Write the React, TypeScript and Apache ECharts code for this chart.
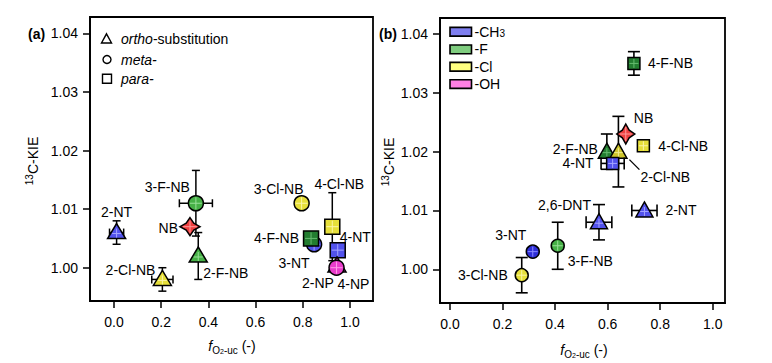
import React, { useEffect, useRef } from 'react';
import * as echarts from 'echarts';

// ---------- tick values ----------
const xTickValues = [0, 0.2, 0.4, 0.6, 0.8, 1.0];
const yTickValues = [1.0, 1.01, 1.02, 1.03, 1.04];

// ---------- panel (a) data ----------
const aNames = ['2-NT', '2-Cl-NB', '3-F-NB', 'NB', '2-F-NB', '3-Cl-NB', '4-Cl-NB', '3-NT', '4-F-NB', '4-NT', '2-NP', '4-NP'];
const aX = [0.011, 0.205, 0.347, 0.322, 0.357, 0.795, 0.925, 0.848, 0.835, 0.948, 0.945, 0.943];
const aY = [1.006, 0.998, 1.011, 1.007, 1.002, 1.011, 1.007, 1.004, 1.005, 1.003, 1.0003, 1.0];
const aXErr = [0.03, 0.045, 0.07, 0, 0, 0, 0, 0, 0, 0, 0, 0];
const aYErr = [0.002, 0.002, 0.0056, 0, 0.004, 0, 0.0058, 0, 0, 0, 0, 0];
const aShape = ['ortho', 'ortho', 'meta', 'nb', 'ortho', 'meta', 'para', 'meta', 'para', 'para', 'ortho', 'meta'];
const aGroup = ['CH3', 'Cl', 'F', 'NB', 'F', 'Cl', 'Cl', 'CH3', 'Fdark', 'CH3', 'OH', 'OH'];

// ---------- panel (b) data ----------
const bNames = ['4-F-NB', '2-NT', '2,6-DNT', '3-F-NB', '3-Cl-NB', '3-NT', '2-F-NB', '2-Cl-NB', 'NB', '4-NT', '4-Cl-NB'];
const bX = [0.7, 0.74, 0.567, 0.41, 0.273, 0.315, 0.597, 0.641, 0.669, 0.619, 0.736];
const bY = [1.035, 1.01, 1.008, 1.004, 0.999, 1.003, 1.02, 1.02, 1.023, 1.018, 1.021];
const bXErr = [0, 0.048, 0.049, 0, 0, 0, 0, 0, 0, 0.044, 0];
const bYErr = [0.002, 0, 0.003, 0.004, 0.003, 0, 0.003, 0.006, 0, 0, 0];
const bShape = ['para', 'ortho', 'ortho', 'meta', 'meta', 'meta', 'ortho', 'ortho', 'nb', 'para', 'para'];
const bGroup = ['Fdark', 'CH3', 'CH3', 'F', 'Cl', 'CH3dark', 'Fdark', 'Cldark', 'NB', 'CH3', 'Cl'];

// ---------- legends ----------
const aLegendTexts = ['{i|ortho}-substitution', '{i|meta-}', '{i|para-}'];
const bLegendTexts = ['-CH{sub|3}', '-F', '-Cl', '-OH'];

// ---------- styles (kept apart from data) ----------
const FONT = '"Liberation Sans", Arial, Helvetica, sans-serif';
const palette: Record<string, [string, string]> = {
  CH3: ['#5252ec', '#a4a4ff'],
  CH3dark: ['#2e2ed8', '#8a8aff'],
  F: ['#46b046', '#98e098'],
  Fdark: ['#237d30', '#66bb70'],
  Cl: ['#e6df3a', '#fbf5a8'],
  Cldark: ['#cdc42c', '#f2ec90'],
  OH: ['#e83ccb', '#ff9ae8'],
  NB: ['#ee3f3f', '#ff9b9b'],
};
const legendSwatchColors = ['#7f7ff0', '#7fcd7f', '#ffff80', '#ff80e4'];

// label layouts: [align, dx, dy, leader?]
type LL = [string, number, number, number[]?];
const aLabelLayout: LL[] = [
  ['center', 0, -21],
  ['right', -7, -9],
  ['right', -6, -16],
  ['right', -12, 1],
  ['left', 5, 17],
  ['center', -23, -14],
  ['center', 7, -43],
  ['center', -20, 19],
  ['right', -12, 0],
  ['left', 2, -13],
  ['center', -19, 17],
  ['left', 1, 16],
];
const bLabelLayout: LL[] = [
  ['left', 14, 0],
  ['left', 21, 0],
  ['right', -8, -17],
  ['left', 10, 15],
  ['right', -14, 0],
  ['center', -22, -17],
  ['right', -9, -3],
  ['left', 22, 25, [11, 8, 21, 18]],
  ['left', 8, -16],
  ['right', -19, 0],
  ['left', 15, 0],
];

const sizeA = { tri: [9, 6, 9], circ: 7.5, sq: 7.5, star: [10, 9], cap: 4, lw: 1.5 };
const sizeB = { tri: [8.5, 6.5, 8.5], circ: 6.5, sq: 6, star: [9, 10], cap: 6, lw: 1.6 };

function makeRenderer(names: string[], shapes: string[], groups: string[], layout: LL[], sz: any) {
  return (params: any, api: any) => {
    const i = params.dataIndex;
    const x = api.value(0);
    const y = api.value(1);
    const xe = api.value(2);
    const ye = api.value(3);
    const [cx, cy] = api.coord([x, y]);
    const children: any[] = [];
    const ls = { stroke: '#000', lineWidth: sz.lw };
    const cap = sz.cap;
    if (ye > 0) {
      const top = api.coord([x, y + ye])[1];
      const bot = api.coord([x, y - ye])[1];
      children.push({ type: 'line', shape: { x1: cx, y1: top, x2: cx, y2: bot }, style: ls });
      children.push({ type: 'line', shape: { x1: cx - cap, y1: top, x2: cx + cap, y2: top }, style: ls });
      children.push({ type: 'line', shape: { x1: cx - cap, y1: bot, x2: cx + cap, y2: bot }, style: ls });
    }
    if (xe > 0) {
      const l = api.coord([x - xe, y])[0];
      const r = api.coord([x + xe, y])[0];
      children.push({ type: 'line', shape: { x1: l, y1: cy, x2: r, y2: cy }, style: ls });
      children.push({ type: 'line', shape: { x1: l, y1: cy - cap, x2: l, y2: cy + cap }, style: ls });
      children.push({ type: 'line', shape: { x1: r, y1: cy - cap, x2: r, y2: cy + cap }, style: ls });
    }
    const [fill, light] = palette[groups[i]];
    const ms = { fill, stroke: '#000', lineWidth: 1.5 };
    const cs = { stroke: light, lineWidth: 1 };
    const shape = shapes[i];
    if (shape === 'ortho') {
      const [ta, tb, tw] = sz.tri;
      children.push({ type: 'polygon', shape: { points: [[cx, cy - ta], [cx + tw, cy + tb], [cx - tw, cy + tb]] }, style: ms });
      children.push({ type: 'line', shape: { x1: cx, y1: cy - ta + 5, x2: cx, y2: cy + tb - 1 }, style: cs });
      children.push({ type: 'line', shape: { x1: cx - tw * 0.5, y1: cy + 1, x2: cx + tw * 0.5, y2: cy + 1 }, style: cs });
    } else if (shape === 'meta') {
      const r = sz.circ;
      children.push({ type: 'circle', shape: { cx, cy, r }, style: ms });
      children.push({ type: 'line', shape: { x1: cx, y1: cy - r + 1.5, x2: cx, y2: cy + r - 1.5 }, style: cs });
      children.push({ type: 'line', shape: { x1: cx - r + 1.5, y1: cy, x2: cx + r - 1.5, y2: cy }, style: cs });
    } else if (shape === 'para') {
      const h = sz.sq;
      children.push({ type: 'rect', shape: { x: cx - h, y: cy - h, width: 2 * h, height: 2 * h }, style: ms });
      children.push({ type: 'line', shape: { x1: cx, y1: cy - h + 1.5, x2: cx, y2: cy + h - 1.5 }, style: cs });
      children.push({ type: 'line', shape: { x1: cx - h + 1.5, y1: cy, x2: cx + h - 1.5, y2: cy }, style: cs });
    } else {
      const [sw, sh] = sz.star;
      const iw = sw * 0.38;
      const ih = sh * 0.38;
      children.push({
        type: 'polygon',
        shape: { points: [[cx, cy - sh], [cx + iw, cy - ih], [cx + sw, cy], [cx + iw, cy + ih], [cx, cy + sh], [cx - iw, cy + ih], [cx - sw, cy], [cx - iw, cy - ih]] },
        style: ms,
      });
      children.push({ type: 'line', shape: { x1: cx, y1: cy - sh + 3, x2: cx, y2: cy + sh - 3 }, style: cs });
      children.push({ type: 'line', shape: { x1: cx - sw + 3, y1: cy, x2: cx + sw - 3, y2: cy }, style: cs });
    }
    const [align, dx, dy, leader] = layout[i];
    if (leader) {
      children.push({ type: 'line', shape: { x1: cx + leader[0], y1: cy + leader[1], x2: cx + leader[2], y2: cy + leader[3] }, style: { stroke: '#000', lineWidth: 1.3 } });
    }
    children.push({
      type: 'text',
      x: cx + dx,
      y: cy + dy,
      style: { text: names[i], fill: '#000', fontSize: 14, fontFamily: FONT, align, verticalAlign: 'middle' },
    });
    return { type: 'group', children };
  };
}

function xAxisCfg(gridIndex: number, min: number, max: number) {
  return {
    type: 'value', gridIndex, min, max,
    axisLine: { show: true, onZero: false, lineStyle: { color: '#000', width: 1.8 } },
    axisTick: { show: true, length: 7, customValues: xTickValues, lineStyle: { color: '#000', width: 1.5 } },
    axisLabel: { customValues: xTickValues, formatter: (v: number) => v.toFixed(1), color: '#000', fontSize: 14, fontFamily: FONT, margin: 14 },
    splitLine: { show: false },
  };
}
function yAxisCfg(gridIndex: number, min: number, max: number) {
  return {
    type: 'value', gridIndex, min, max,
    axisLine: { show: true, onZero: false, lineStyle: { color: '#000', width: 1.8 } },
    axisTick: { show: true, length: 7, customValues: yTickValues, lineStyle: { color: '#000', width: 1.5 } },
    axisLabel: { customValues: yTickValues, formatter: (v: number) => v.toFixed(2), color: '#000', fontSize: 14, fontFamily: FONT, margin: 12 },
    splitLine: { show: false },
  };
}

const yName = (x: number, y: number) => ({
  type: 'text', x, y, rotation: Math.PI / 2,
  style: {
    text: '{sup|13}{n|C-KIE}', align: 'center', verticalAlign: 'middle', fill: '#000',
    rich: {
      sup: { fontSize: 10, fontFamily: FONT, verticalAlign: 'top', lineHeight: 10, fill: '#000' },
      n: { fontSize: 14, fontFamily: FONT, lineHeight: 17, verticalAlign: 'middle', fill: '#000' },
    },
  },
});
const xName = (x: number, y: number) => ({
  type: 'text', x, y,
  style: {
    text: '{f|f}{s|O}{s2|2}{s|-uc}{n| (-)}', align: 'center', verticalAlign: 'middle', fill: '#000',
    rich: {
      f: { fontSize: 14, fontFamily: FONT, fontStyle: 'italic', lineHeight: 18, verticalAlign: 'middle', fill: '#000' },
      s: { fontSize: 10, fontFamily: FONT, lineHeight: 10, verticalAlign: 'bottom', fill: '#000' },
      s2: { fontSize: 7, fontFamily: FONT, lineHeight: 7, verticalAlign: 'bottom', fill: '#000' },
      n: { fontSize: 14, fontFamily: FONT, lineHeight: 18, verticalAlign: 'middle', fill: '#000' },
    },
  },
});

export default function App() {
  const ref = useRef<HTMLDivElement>(null);
  useEffect(() => {
    if (!ref.current) return;
    const chart = echarts.init(ref.current, undefined, { renderer: 'svg' });
    const legendText = (text: string, x: number, y: number) => ({
      type: 'text', x, y,
      style: {
        text, fill: '#000', align: 'left', verticalAlign: 'middle', fontSize: 14, fontFamily: FONT,
        rich: {
          i: { fontSize: 14, fontFamily: FONT, fontStyle: 'italic', fill: '#000', lineHeight: 16 },
          sub: { fontSize: 10, fontFamily: FONT, fill: '#000', verticalAlign: 'bottom', lineHeight: 10 },
        },
      },
    });
    const legendYsA = [38.5, 59.5, 78.7];
    const legendYsB = [31.7, 49.3, 66.7, 84];
    const graphics: any[] = [
      { type: 'text', x: 28, y: 34, style: { text: '(a)', fontSize: 14, fontWeight: 'bold', fontFamily: FONT, fill: '#000', verticalAlign: 'middle' } },
      { type: 'text', x: 379, y: 33.5, style: { text: '(b)', fontSize: 14, fontWeight: 'bold', fontFamily: FONT, fill: '#000', verticalAlign: 'middle' } },
      yName(33, 161),
      yName(389, 162),
      xName(232, 346),
      xName(584, 350),
      { type: 'polygon', shape: { points: [[106.5, 33.8], [111.5, 43], [101.5, 43]] }, style: { fill: '#fff', stroke: '#000', lineWidth: 1.4 } },
      { type: 'circle', shape: { cx: 107, cy: 59.5, r: 4 }, style: { fill: '#fff', stroke: '#000', lineWidth: 1.4 } },
      { type: 'rect', shape: { x: 102.5, y: 74.3, width: 9, height: 9 }, style: { fill: '#fff', stroke: '#000', lineWidth: 1.4 } },
      ...aLegendTexts.map((t, k) => legendText(t, 121, legendYsA[k])),
      ...bLegendTexts.map((t, k) => ({ type: 'rect', shape: { x: 450, y: legendYsB[k] - 4.3, width: 21.5, height: 8.7 }, style: { fill: legendSwatchColors[k], stroke: '#000', lineWidth: 1.6 } })),
      ...bLegendTexts.map((t, k) => legendText(t, 474.5, legendYsB[k])),
    ];
    chart.setOption({
      animation: false,
      backgroundColor: '#fff',
      grid: [
        { left: 90, top: 17, width: 283, height: 284, show: true, borderColor: '#000', borderWidth: 1.8 },
        { left: 440, top: 18, width: 285, height: 285, show: true, borderColor: '#000', borderWidth: 1.8 },
      ],
      xAxis: [xAxisCfg(0, -0.1017, 1.0975), xAxisCfg(1, -0.0381, 1.0467)],
      yAxis: [yAxisCfg(0, 0.99432, 1.04278), yAxisCfg(1, 0.99427, 1.04272)],
      series: [
        {
          type: 'custom', xAxisIndex: 0, yAxisIndex: 0,
          data: aX.map((x, i) => [x, aY[i], aXErr[i], aYErr[i]]),
          renderItem: makeRenderer(aNames, aShape, aGroup, aLabelLayout, sizeA),
        },
        {
          type: 'custom', xAxisIndex: 1, yAxisIndex: 1,
          data: bX.map((x, i) => [x, bY[i], bXErr[i], bYErr[i]]),
          renderItem: makeRenderer(bNames, bShape, bGroup, bLabelLayout, sizeB),
        },
      ],
      graphic: graphics,
    });
    return () => chart.dispose();
  }, []);
  return <div ref={ref} style={{ position: 'fixed', left: 0, top: 0, width: 772, height: 363 }} />;
}
